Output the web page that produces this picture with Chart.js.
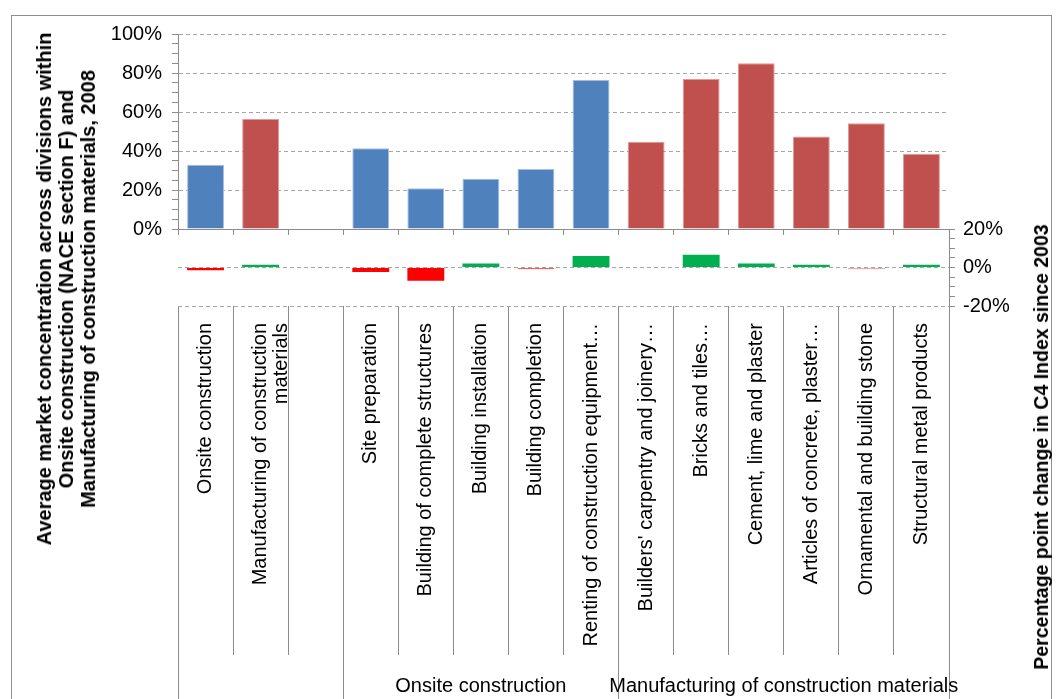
<!DOCTYPE html>
<html>
<head>
<meta charset="utf-8">
<script src="https://cdn.jsdelivr.net/npm/chart.js@4.4.1/dist/chart.umd.min.js"></script>
<style>
html,body{margin:0;padding:0;background:#fff;overflow:hidden;}
#wrap{position:relative;width:1058px;height:699px;overflow:hidden;font-family:"Liberation Sans",Arial,sans-serif;}
#frame{position:absolute;left:11px;top:15px;width:1041px;height:720px;border:1px solid #8e8e8e;box-sizing:border-box;}
canvas{position:absolute;left:0;}
#cTop{top:0;}
#cBot{top:209px;}
.title{position:absolute;font-weight:bold;font-size:20px;line-height:22px;color:#000;text-align:center;white-space:nowrap;transform:translate(-50%,-50%) rotate(-90deg);}
</style>
</head>
<body>
<div id="wrap">
  <div id="frame"></div>
  <canvas id="cTop" width="1058" height="251"></canvas>
  <canvas id="cBot" width="1058" height="490"></canvas>
  <div class="title" style="left:66px;top:289px;">Average market concentration across divisions within<br>Onsite construction (NACE section F) and<br>Manufacturing of construction materials, 2008</div>
  <div class="title" style="left:1041px;top:447px;font-size:19.5px;">Percentage point change in C4 Index since 2003</div>
</div>
<script>
// ---- data ----
const categories = [
  'Onsite construction',
  ['Manufacturing of construction', 'materials'],
  '',
  'Site preparation',
  'Building of complete structures',
  'Building installation',
  'Building completion',
  'Renting of construction equipment…',
  "Builders' carpentry and joinery…",
  'Bricks and tiles…',
  'Cement, lime and plaster',
  'Articles of concrete, plaster…',
  'Ornamental and building stone',
  'Structural metal products'
];
// Average market concentration (C4), 2008, in %
const concentration2008 = [33.0, 56.4, null, 41.4, 20.9, 25.8, 30.8, 76.4, 44.8, 76.9, 85.0, 47.5, 54.2, 38.6];
// Percentage point change in C4 index since 2003
const changeSince2003 = [-1.4, 1.4, null, -2.4, -6.9, 2.1, -0.9, 6.0, 0.3, 6.6, 2.1, 1.4, -0.7, 1.4];
// which family each bar belongs to (colour)
const barFamily = ['onsite', 'manufacturing', null, 'onsite', 'onsite', 'onsite', 'onsite', 'onsite',
  'manufacturing', 'manufacturing', 'manufacturing', 'manufacturing', 'manufacturing', 'manufacturing'];
// second-level category (group label under the axis)
const sectionGroup = [null, null, null,
  'Onsite construction', 'Onsite construction', 'Onsite construction', 'Onsite construction', 'Onsite construction',
  'Manufacturing of construction materials', 'Manufacturing of construction materials', 'Manufacturing of construction materials',
  'Manufacturing of construction materials', 'Manufacturing of construction materials', 'Manufacturing of construction materials'];

// ---- styles ----
const FILL = { onsite: '#4F81BD', manufacturing: '#C0504D' };
const EDGE = { onsite: '#A7BFDE', manufacturing: '#DE9A98' };
const UP = '#00B050', UP_EDGE = '#5CCB8A', DOWN = '#FF0000', DOWN_EDGE = '#FF5A5A';
const AXIS = '#8C8C8C';
const GRID = '#A6A6A6';
const NONE = 'rgba(0,0,0,0)';

Chart.defaults.font.family = '"Liberation Sans", Arial, sans-serif';
Chart.defaults.font.size = 20;
Chart.defaults.color = '#000';

// group spans derived from sectionGroup
const N = categories.length;
const spans = [];
for (let i = 0; i < N; i++) {
  const g = sectionGroup[i];
  if (!g) continue;
  const last = spans[spans.length - 1];
  if (last && last.name === g && last.end === i) {
    last.end = i + 1;
  } else {
    spans.push({ name: g, start: i, end: i + 1 });
  }
}
const boundarySet = new Set([0, N]);
spans.forEach(s => { boundarySet.add(s.start); boundarySet.add(s.end); });
const groupTicks = [];
boundarySet.forEach(b => groupTicks.push({ value: b, label: '' }));
spans.forEach(s => groupTicks.push({ value: (s.start + s.end) / 2, label: s.name }));
groupTicks.sort((a, b) => a.value - b.value);
const isBoundary = v => boundarySet.has(v);

// ---- top chart: concentration ----
new Chart(document.getElementById('cTop'), {
  type: 'bar',
  data: {
    labels: categories,
    datasets: [{
      data: concentration2008,
      backgroundColor: barFamily.map(f => FILL[f] || NONE),
      borderColor: barFamily.map(f => EDGE[f] || NONE),
      borderWidth: 1,
      barPercentage: 0.67,
      categoryPercentage: 1
    }]
  },
  options: {
    responsive: false,
    animation: false,
    events: [],
    layout: { padding: { top: 34, right: 109, left: 0, bottom: 0 } },
    plugins: { legend: { display: false }, tooltip: { enabled: false } },
    scales: {
      x: {
        type: 'category',
        offset: true,
        grid: { offset: true, drawOnChartArea: false, drawTicks: true, tickLength: 6, color: AXIS, tickColor: AXIS },
        border: { display: true, color: AXIS, width: 1 },
        ticks: { display: false },
        afterFit: s => { s.height = 16; }
      },
      y: {
        min: 0, max: 100,
        ticks: {
          stepSize: 5, autoSkip: false, padding: 10, color: '#000', font: { size: 20 },
          callback: v => (v % 20 === 0 ? v + '%' : '')
        },
        grid: {
          color: ctx => (ctx.tick && ctx.tick.value % 20 === 0 && ctx.tick.value !== 0 ? GRID : NONE),
          tickColor: AXIS, tickLength: 6, drawTicks: true
        },
        border: { display: true, color: AXIS, dash: [4, 3] },
        afterFit: s => { s.width = 178; }
      }
    }
  }
});

// ---- bottom chart: change since 2003 ----
new Chart(document.getElementById('cBot'), {
  type: 'bar',
  data: {
    labels: categories,
    datasets: [{
      data: changeSince2003,
      xAxisID: 'x',
      yAxisID: 'y',
      backgroundColor: changeSince2003.map(v => (v == null ? NONE : v >= 0 ? UP : DOWN)),
      borderColor: changeSince2003.map(v => (v == null ? NONE : v >= 0 ? UP_EDGE : DOWN_EDGE)),
      borderWidth: changeSince2003.map(v => (v != null && Math.abs(v) < 1 ? 1 : 0)),
      borderSkipped: false,
      barPercentage: 0.67,
      categoryPercentage: 1
    }]
  },
  options: {
    responsive: false,
    animation: false,
    events: [],
    layout: { padding: { top: 20, left: 178, right: 0, bottom: 0 } },
    plugins: { legend: { display: false }, tooltip: { enabled: false } },
    scales: {
      x: {
        type: 'category',
        position: 'bottom',
        weight: 0,
        offset: true,
        grid: { offset: true, drawOnChartArea: false, drawTicks: true, tickLength: 349, color: AXIS, tickColor: AXIS },
        border: { display: false },
        ticks: {
          autoSkip: false, minRotation: 90, maxRotation: 90, padding: -332,
          color: '#000', font: { size: 20, lineHeight: 1.05 }
        },
        afterFit: s => { s.height = 349; }
      },
      xg: {
        type: 'linear',
        position: 'bottom',
        weight: 1,
        offset: false,
        min: 0, max: N,
        afterBuildTicks: s => { s.ticks = groupTicks.map(t => ({ value: t.value })); },
        ticks: {
          autoSkip: false, minRotation: 0, maxRotation: 0, padding: -31,
          color: '#000', font: { size: 20 },
          callback: v => { const t = groupTicks.find(g => g.value === v); return t ? t.label : ''; }
        },
        grid: {
          offset: false,
          drawOnChartArea: false, drawTicks: true, tickLength: 50,
          color: ctx => (ctx.tick && isBoundary(ctx.tick.value) ? AXIS : NONE),
          tickColor: ctx => (ctx.tick && isBoundary(ctx.tick.value) ? AXIS : NONE)
        },
        border: { display: false },
        afterFit: s => { s.height = 44; }
      },
      y: {
        position: 'right',
        min: -20, max: 20,
        ticks: {
          stepSize: 5, autoSkip: false, padding: 8, color: '#000', font: { size: 20 },
          callback: v => (v % 20 === 0 ? v + '%' : '')
        },
        grid: {
          color: ctx => (ctx.tick && (ctx.tick.value === 0 || ctx.tick.value === -20) ? GRID : NONE),
          tickColor: AXIS, tickLength: 6, drawTicks: true
        },
        border: { display: true, color: AXIS, dash: [4, 3] },
        afterFit: s => { s.width = 109; }
      }
    }
  }
});
</script>
</body>
</html>
